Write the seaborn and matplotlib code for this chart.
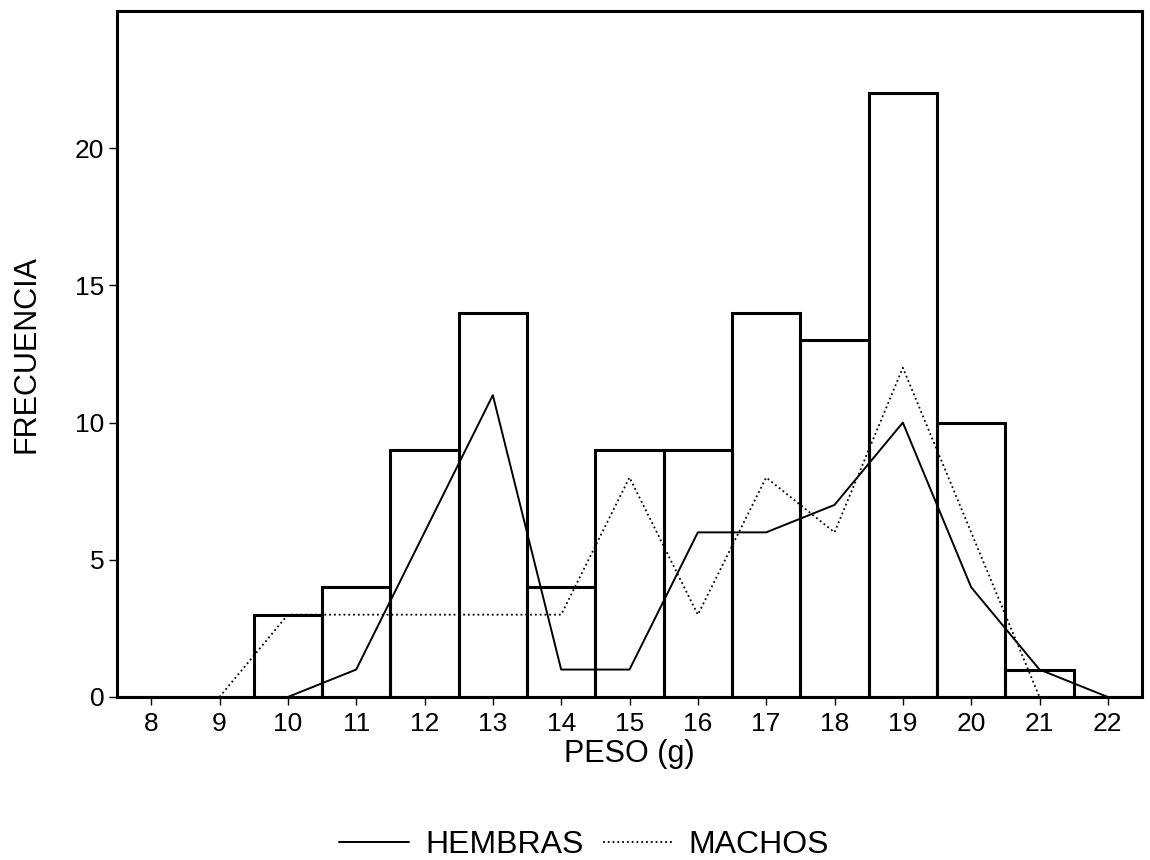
import matplotlib
matplotlib.use("Agg")
import matplotlib.pyplot as plt
import seaborn as sns
import pandas as pd

# Data
peso = [8, 9, 10, 11, 12, 13, 14, 15, 16, 17, 18, 19, 20, 21, 22]
total = [0, 0, 3, 4, 9, 14, 4, 9, 9, 14, 13, 22, 10, 1, 0]

peso_hembras = [10, 11, 12, 13, 14, 15, 16, 17, 18, 19, 20, 21, 22]
hembras = [0, 1, 6, 11, 1, 1, 6, 6, 7, 10, 4, 1, 0]

peso_machos = [9, 10, 11, 12, 13, 14, 15, 16, 17, 18, 19, 20, 21]
machos = [0, 3, 3, 3, 3, 3, 8, 3, 8, 6, 12, 6, 0]

x_ticks = peso
y_ticks = [0, 5, 10, 15, 20]

sns.set_style("ticks")
plt.rcParams["font.family"] = ["Liberation Sans", "DejaVu Sans"]
plt.rcParams["text.color"] = "black"
plt.rcParams["axes.labelcolor"] = "black"
plt.rcParams["xtick.color"] = "black"
plt.rcParams["ytick.color"] = "black"

fig = plt.figure(figsize=(11.5, 8.6), dpi=100)
ax = fig.add_axes([117 / 1150, 1 - 697 / 860, (1142 - 117) / 1150, (697 - 11) / 860])

df_total = pd.DataFrame({"peso": peso, "total": total})
sns.histplot(data=df_total, x="peso", weights="total", discrete=True,
             fill=False, element="bars", color="black", linewidth=2.2, ax=ax)

df_h = pd.DataFrame({"peso": peso_hembras, "freq": hembras})
df_m = pd.DataFrame({"peso": peso_machos, "freq": machos})
sns.lineplot(data=df_h, x="peso", y="freq", color="black", linewidth=1.4,
             label="HEMBRAS", ax=ax)
sns.lineplot(data=df_m, x="peso", y="freq", color="black", linewidth=1.3,
             linestyle=":", label="MACHOS", ax=ax)

ax.set_xlim(7.5, 22.5)
ax.set_ylim(0, 25)
ax.set_xticks(x_ticks)
ax.set_yticks(y_ticks)
ax.tick_params(axis="both", labelsize=19, length=6, width=1.0, color="black",
               direction="out")
ax.tick_params(axis="x", pad=5)
ax.tick_params(axis="y", pad=3)
for s in ax.spines.values():
    s.set_visible(True)
    s.set_linewidth(2.2)
    s.set_color("black")

ax.set_xlabel("PESO (g)", fontsize=22, labelpad=2)
ax.set_ylabel("FRECUENCIA", fontsize=22, labelpad=24)

ax.get_legend().remove()
handles, labels = ax.get_legend_handles_labels()
fig.legend(handles, labels, loc="center", bbox_to_anchor=(584 / 1150, 1 - 845 / 860),
           ncol=2, frameon=False, fontsize=23, handlelength=2.2,
           handletextpad=0.5, columnspacing=0.6)

fig.savefig("out.png", dpi=100, facecolor="white")
